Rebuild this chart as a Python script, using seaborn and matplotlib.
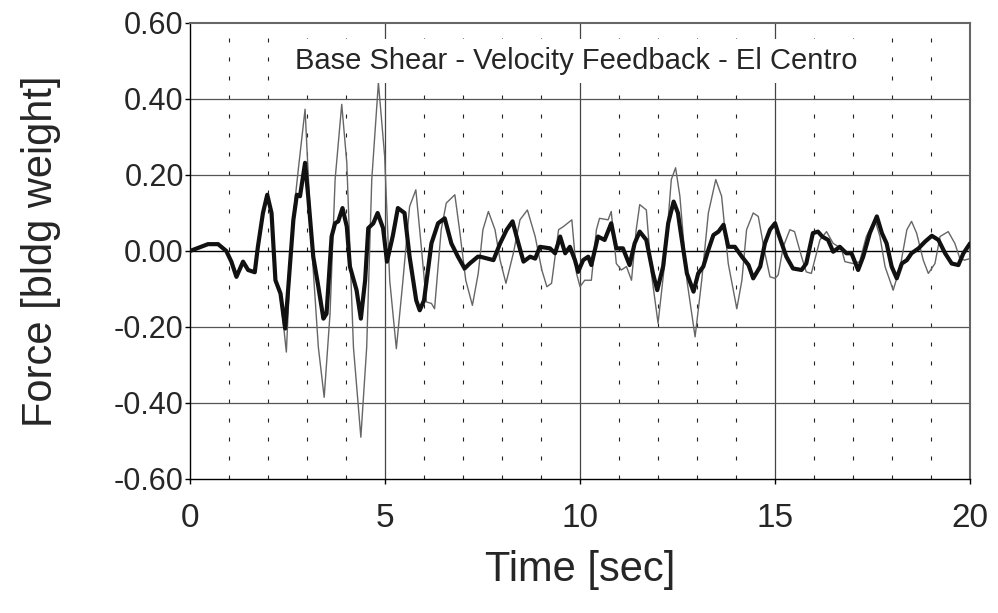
import numpy as np
import pandas as pd
import seaborn as sns
import matplotlib.pyplot as plt

# uncontrolled response (thin gray) - digitized
t_unc = [0.0, 0.46, 0.72, 0.93, 1.06, 1.19, 1.36, 1.49, 1.66, 1.74, 1.87, 1.98, 2.09, 2.19, 2.32, 2.47,
         2.61, 2.78, 2.95, 3.12, 3.29, 3.44, 3.59, 3.72, 3.89, 4.02, 4.19, 4.38, 4.53, 4.66, 4.83, 4.99,
         5.12, 5.29, 5.46, 5.63, 5.79, 5.93, 6.06, 6.19, 6.27, 6.44, 6.57, 6.79, 6.91, 7.07, 7.24, 7.39,
         7.51, 7.65, 7.82, 7.95, 8.10, 8.29, 8.46, 8.65, 8.85, 9.02, 9.15, 9.27, 9.45, 9.57, 9.79, 9.91,
         10.0, 10.12, 10.29, 10.42, 10.50, 10.72, 10.80, 10.93, 11.06, 11.19, 11.32, 11.44, 11.53, 11.70,
         11.83, 12.0, 12.17, 12.34, 12.45, 12.56, 12.74, 12.95, 13.12, 13.29, 13.48, 13.63, 13.80, 14.02,
         14.15, 14.27, 14.44, 14.57, 14.74, 14.87, 15.0, 15.08, 15.21, 15.38, 15.50, 15.68, 15.80, 15.93,
         16.15, 16.32, 16.49, 16.70, 16.79, 17.0, 17.17, 17.34, 17.51, 17.56, 17.69, 17.82, 18.03, 18.21,
         18.38, 18.50, 18.63, 18.80, 18.93, 19.10, 19.23, 19.44, 19.61, 19.74, 19.86, 20.0]
f_unc = [0.0, 0.018, 0.018, 0.0, -0.028, -0.068, -0.028, -0.05, -0.056, 0.011, 0.10, 0.148, 0.10, -0.08, -0.12, -0.266,
         0.055, 0.218, 0.373, 0.011, -0.253, -0.385, -0.165, 0.188, 0.386, 0.232, -0.253, -0.49, -0.253, 0.188, 0.443, 0.25,
         -0.077, -0.257, -0.077, 0.117, 0.161, 0.011, -0.134, -0.138, -0.152, 0.056, 0.126, 0.148, 0.056, -0.077, -0.143, -0.059,
         0.056, 0.104, 0.056, -0.024, -0.085, -0.006, 0.082, 0.108, 0.038, -0.05, -0.094, -0.085, 0.056, 0.064, 0.082, -0.059,
         -0.094, -0.077, -0.077, 0.056, 0.086, 0.082, 0.104, -0.033, -0.05, -0.041, -0.077, 0.056, 0.122, 0.108,
         -0.059, -0.19, -0.033, 0.188, 0.219, 0.144, -0.077, -0.226, -0.077, 0.10, 0.188, 0.144, -0.033, -0.152,
         -0.077, 0.056, 0.10, 0.091, -0.006, -0.068, -0.072, -0.063, 0.011, 0.056, 0.051, -0.015, -0.055, -0.059,
         0.029, 0.051, 0.02, 0.007, -0.028, -0.033, -0.028, 0.038, 0.073, 0.082, 0.038, -0.041, -0.103, -0.041,
         0.056, 0.078, 0.047, -0.024, -0.059, -0.033, 0.038, 0.051, 0.02, -0.02, -0.024, -0.02]

# velocity feedback controlled response (thick black)
t_ctl = [0.0, 0.46, 0.72, 0.93, 1.06, 1.19, 1.36, 1.49, 1.66, 1.74, 1.87, 1.98, 2.09, 2.19, 2.32, 2.44,
         2.52, 2.65, 2.74, 2.82, 2.95, 3.03, 3.16, 3.29, 3.42, 3.50, 3.63, 3.72, 3.80, 3.91, 4.02, 4.10,
         4.27, 4.38, 4.49, 4.57, 4.70, 4.81, 4.95, 5.05, 5.20, 5.33, 5.50, 5.63, 5.80, 5.89, 6.0, 6.19,
         6.36, 6.53, 6.70, 6.87, 7.04, 7.17, 7.38, 7.44, 7.78, 7.95, 8.12, 8.27, 8.42, 8.55, 8.72, 8.85,
         8.97, 9.23, 9.36, 9.49, 9.62, 9.74, 9.87, 9.95, 10.08, 10.21, 10.29, 10.46, 10.63, 10.80, 10.93,
         11.10, 11.27, 11.40, 11.53, 11.70, 11.87, 11.98, 12.13, 12.26, 12.40, 12.51, 12.56, 12.74, 12.91,
         13.03, 13.16, 13.29, 13.42, 13.55, 13.68, 13.80, 13.97, 14.15, 14.32, 14.44, 14.62, 14.74, 14.87,
         15.0, 15.08, 15.29, 15.46, 15.68, 15.80, 15.97, 16.10, 16.21, 16.36, 16.49, 16.66, 16.83, 16.96,
         17.13, 17.26, 17.43, 17.61, 17.74, 17.86, 17.99, 18.12, 18.25, 18.38, 18.50, 18.68, 18.85, 19.02,
         19.19, 19.36, 19.53, 19.70, 19.83, 20.0]
f_ctl = [0.0, 0.018, 0.018, 0.0, -0.028, -0.068, -0.028, -0.05, -0.056, 0.011, 0.10, 0.148, 0.10, -0.077, -0.112, -0.204,
         -0.094, 0.082, 0.148, 0.144, 0.232, 0.144, -0.015, -0.094, -0.178, -0.165, 0.038, 0.073, 0.078, 0.113, 0.064, -0.041,
         -0.103, -0.178, -0.077, 0.06, 0.073, 0.10, 0.06, -0.028, 0.04, 0.113, 0.10, -0.015, -0.13, -0.156, -0.13, 0.02,
         0.073, 0.086, 0.02, -0.015, -0.046, -0.033, -0.015, -0.015, -0.024, 0.02, 0.056, 0.078, 0.02, -0.028, -0.015, -0.02,
         0.011, 0.007, -0.006, 0.038, -0.006, 0.011, -0.024, -0.055, -0.024, -0.015, -0.037, 0.038, 0.029, 0.073, 0.007,
         0.007, -0.037, 0.02, 0.051, 0.029, -0.059, -0.103, -0.041, 0.073, 0.13, 0.10, 0.064, -0.059, -0.107,
         -0.059, -0.041, 0.003, 0.042, 0.051, 0.069, 0.011, 0.011, -0.015, -0.037, -0.072, -0.041, 0.02, 0.056,
         0.073, 0.047, -0.015, -0.046, -0.05, -0.033, 0.047, 0.051, 0.038, 0.029, -0.002, 0.011, -0.006, -0.006,
         -0.05, -0.015, 0.047, 0.091, 0.047, 0.02, -0.041, -0.072, -0.033, -0.024, -0.006, 0.007, 0.025, 0.04,
         0.029, -0.006, -0.033, -0.037, -0.006, 0.02]

sns.set_style("white")
plt.rcParams['font.family'] = ['Liberation Sans', 'DejaVu Sans']

unc = pd.DataFrame({'time': t_unc, 'force': f_unc})
ctl = pd.DataFrame({'time': t_ctl, 'force': f_ctl})

fig = plt.figure(figsize=(9.98, 6.13), dpi=100)
ax = fig.add_axes([0.1904, 0.2186, 0.7816, 0.7439])

# grid: dotted every second, solid at 5 s and every 0.2
for x in range(1, 20):
    if x % 5 == 0:
        ax.axvline(x, color='#444444', lw=0.9, zorder=1)
    else:
        ax.axvline(x, color='#222222', lw=0.8, ls=(0, (3.6, 13.5)), zorder=1)
for y in [-0.4, -0.2, 0.2, 0.4]:
    ax.axhline(y, color='#555555', lw=0.9, zorder=1)
ax.axhline(0, color='black', lw=1.0, zorder=1)

sns.lineplot(data=unc, x='time', y='force', ax=ax, color='#666666', lw=1.0, zorder=3)
sns.lineplot(data=ctl, x='time', y='force', ax=ax, color='#111111', lw=3.0, zorder=4)

ax.set_xlim(0, 20)
ax.set_ylim(-0.6, 0.6)
ax.set_xticks([0, 5, 10, 15, 20])
ax.set_yticks(np.round(np.arange(-0.6, 0.61, 0.2), 1))
ax.set_yticklabels([f"{v:.2f}" for v in np.arange(-0.6, 0.61, 0.2)])
ax.tick_params(axis='both', direction='out', length=3.5, width=1,
               color='black', bottom=True, left=True)
ax.tick_params(axis='y', labelsize=22, pad=1)
ax.tick_params(axis='x', labelsize=24, pad=14)
ax.set_xlabel('Time [sec]', fontsize=30, labelpad=11)
ax.set_ylabel('Force [bldg weight]', fontsize=30, labelpad=38)

for side in ['left', 'bottom']:
    ax.spines[side].set_color('black')
    ax.spines[side].set_linewidth(1.0)
for side in ['top', 'right']:
    ax.spines[side].set_color('#666666')
    ax.spines[side].set_linewidth(1.5)

ax.text(9.9, 0.50, 'Base Shear - Velocity Feedback - El Centro', fontsize=21,
        ha='center', va='center', zorder=5,
        bbox=dict(facecolor='white', edgecolor='none', pad=6))

fig.savefig('out.png', dpi=100)
